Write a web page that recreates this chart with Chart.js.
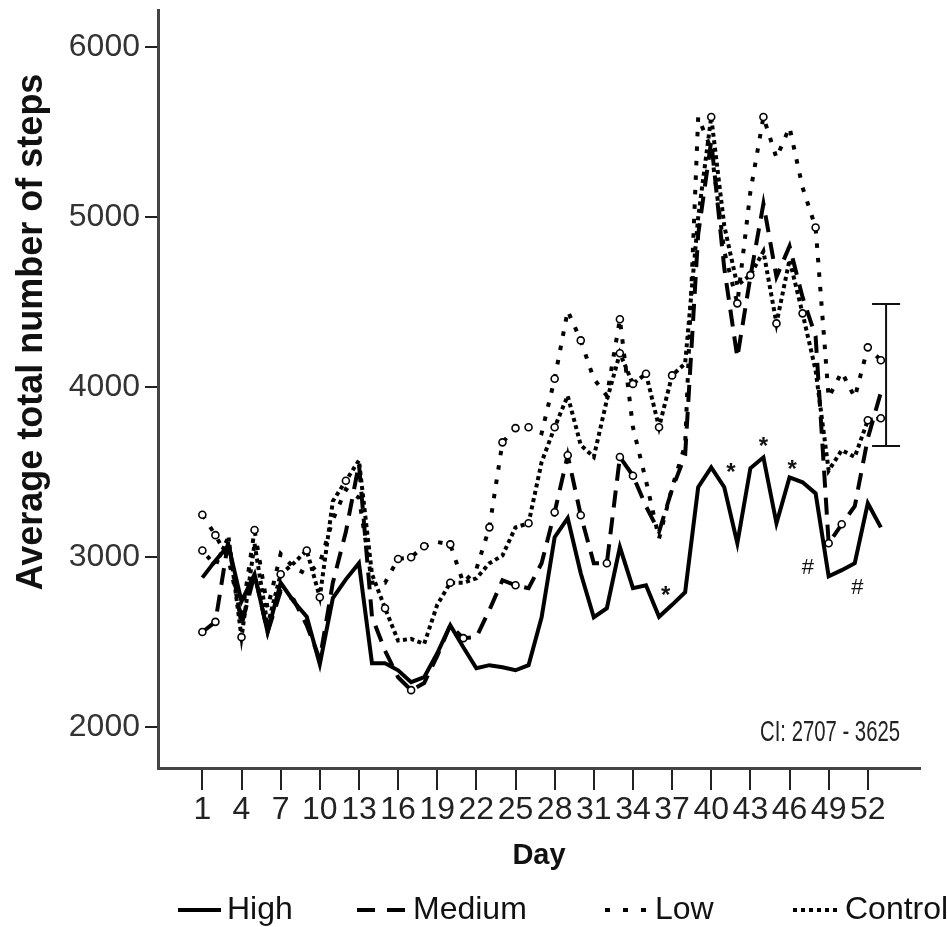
<!DOCTYPE html>
<html><head><meta charset="utf-8">
<script src="https://cdn.jsdelivr.net/npm/chart.js@4.4.0/dist/chart.umd.min.js"></script>
<style>html,body{margin:0;padding:0;background:#fff;}#wrap{width:947px;height:927px;}</style>
</head><body><div id="wrap"><canvas id="c" width="947" height="927"></canvas></div>
<script>
const days = [1,2,3,4,5,6,7,8,9,10,11,12,13,14,15,16,17,18,19,20,21,22,23,24,25,26,27,28,29,30,31,32,33,34,35,36,37,38,39,40,41,42,43,44,45,46,47,48,49,50,51,52,53];
const xTickDays = [1,4,7,10,13,16,19,22,25,28,31,34,37,40,43,46,49,52];
const yTickValues = [2000,3000,4000,5000,6000];
const seriesNames = ['High','Medium','Low','Control'];

const high = [2880,2980,3070,2740,2900,2560,2850,2740,2650,2370,2760,2870,2965,2376,2376,2335,2265,2294,2435,2600,2470,2347,2365,2353,2335,2365,2647,3118,3230,2906,2647,2700,3060,2818,2835,2650,2720,2794,3412,3529,3412,3082,3524,3588,3200,3470,3441,3376,2888,2924,2965,3318,3176];
const medium = [2560,2620,3100,2600,2900,2560,2800,2750,2600,2400,2850,3150,3550,2650,2450,2294,2218,2260,2420,2600,2524,2530,2690,2865,2835,2818,2965,3265,3600,3247,2965,2965,3590,3480,3300,3150,3400,3600,4900,5450,4700,4176,4650,5080,4650,4830,4530,4300,3082,3194,3300,3700,3970];
const low = [3250,3130,2990,2640,3160,2700,3020,2940,2900,2965,3220,3400,3350,2850,2850,2990,3000,3065,3090,3076,2850,2930,3176,3676,3760,3765,3730,4050,4450,4276,4050,3950,4400,3765,3450,3110,3410,3660,5590,5400,4800,4494,5150,5590,5350,5530,5176,4940,3940,4090,3940,4235,4159];
const control = [3040,2950,3120,2530,3080,2600,2900,2965,3040,2765,3330,3450,3570,2900,2700,2510,2520,2490,2720,2850,2850,2876,2965,3010,3176,3200,3560,3765,3950,3660,3590,3925,4200,4020,4080,3765,4070,4140,5000,5590,4950,4600,4660,4800,4376,4750,4435,4100,3510,3630,3590,3806,3818];

// days that carry a small open-circle marker in each series
const highMarked = [];
const mediumMarked = [1,2,17,21,25,28,29,30,32,33,34,49,50];
const lowMarked = [1,2,5,16,17,18,20,23,24,25,26,28,30,33,42,44,48,52,53];
const controlMarked = [1,4,7,9,10,12,15,20,26,28,33,34,35,36,37,40,43,45,47,52,53];

// significance marks and the CI error bar (data coordinates)
const sigMarks = [
  {day:36.5, value:2800, text:'*'},
  {day:41.5, value:3524, text:'*'},
  {day:44.0, value:3676, text:'*'},
  {day:46.2, value:3541, text:'*'},
  {day:47.4, value:2935, text:'#'},
  {day:51.2, value:2818, text:'#'}
];
const ciBar = {day:53.4, low:3655, high:4490};
const ciText = 'CI: 2707 - 3625';

const FONT = "'Liberation Sans', Arial, sans-serif";

function toPoints(vals){ return days.map((d,i)=>({x:d, y:vals[i]})); }
function markerRadius(marked){ return ctx => (ctx.raw && marked.includes(ctx.raw.x)) ? 3.5 : 0; }

const styles = [
  {dash:[], legendDash:[], marked:highMarked},
  {dash:[17,10], legendDash:[18,12], marked:mediumMarked},
  {dash:[4.5,10], legendDash:[5,13], marked:lowMarked},
  {dash:[4,3.5], legendDash:[4,4], marked:controlMarked}
];
const allSeries = [high, medium, low, control];

const datasets = allSeries.map((vals,i)=>({
  label: seriesNames[i],
  data: toPoints(vals),
  borderColor:'#000',
  borderWidth:4,
  borderDash:styles[i].dash,
  borderCapStyle:'butt',
  borderJoinStyle:'miter',
  tension:0,
  fill:false,
  pointRadius: markerRadius(styles[i].marked),
  pointHoverRadius:0,
  pointBackgroundColor:'#fff',
  pointBorderColor:'#000',
  pointBorderWidth:1.6
}));

const legendLayout = [
  {x0:178, x1:221, tx:227},
  {x0:357, x1:405, tx:413},
  {x0:605, x1:649, tx:655},
  {x0:793, x1:837, tx:845}
];

const extras = {
  id:'extras',
  afterDraw(chart){
    const {ctx, scales:{x,y}} = chart;
    ctx.save();
    // CI error bar
    const bx = x.getPixelForValue(ciBar.day);
    const yt = y.getPixelForValue(ciBar.high), yb = y.getPixelForValue(ciBar.low);
    ctx.strokeStyle='#111'; ctx.lineWidth=2; ctx.setLineDash([]);
    ctx.beginPath();
    ctx.moveTo(bx,yt); ctx.lineTo(bx,yb);
    ctx.moveTo(bx-14,yt); ctx.lineTo(bx+14,yt);
    ctx.moveTo(bx-14,yb); ctx.lineTo(bx+14,yb);
    ctx.stroke();
    // significance marks
    ctx.fillStyle='#111'; ctx.textAlign='center'; ctx.textBaseline='middle';
    sigMarks.forEach(m=>{
      const px = x.getPixelForValue(m.day), py = y.getPixelForValue(m.value);
      if (m.text==='*'){ ctx.font = "bold 24px "+FONT; ctx.fillText(m.text, px, py+5); }
      else { ctx.font = "22px "+FONT; ctx.fillText(m.text, px, py); }
    });
    // CI text (narrow face)
    ctx.save();
    ctx.translate(chart.chartArea.right-20, 733);
    ctx.scale(0.7, 1);
    ctx.font = "29px "+FONT; ctx.textAlign='right'; ctx.textBaseline='middle'; ctx.fillStyle='#222';
    ctx.fillText(ciText, 0, 0);
    ctx.restore();
    // y axis title
    ctx.save();
    ctx.translate(32, 332); ctx.rotate(-Math.PI/2);
    ctx.font = "bold 36px "+FONT; ctx.textAlign='center'; ctx.textBaseline='middle'; ctx.fillStyle='#111';
    ctx.fillText('Average total number of steps', 0, 0);
    ctx.restore();
    // legend
    chart.data.datasets.forEach((ds,i)=>{
      const L = legendLayout[i];
      ctx.strokeStyle='#000'; ctx.lineWidth=ds.borderWidth; ctx.lineCap='butt'; ctx.setLineDash(styles[i].legendDash);
      ctx.beginPath(); ctx.moveTo(L.x0,910); ctx.lineTo(L.x1,910); ctx.stroke();
      ctx.setLineDash([]);
      ctx.font = "32px "+FONT; ctx.textAlign='left'; ctx.textBaseline='middle'; ctx.fillStyle='#111';
      ctx.fillText(ds.label, L.tx, 910);
    });
    ctx.restore();
  }
};

new Chart(document.getElementById('c'), {
  type:'line',
  data:{datasets},
  options:{
    responsive:false, animation:false, devicePixelRatio:1,
    layout:{padding:{top:10,right:27,bottom:0,left:0}},
    plugins:{legend:{display:false}, tooltip:{enabled:false}},
    elements:{point:{hitRadius:0}},
    scales:{
      x:{type:'linear', min:-2.4, max:56,
        afterBuildTicks:s=>{ s.ticks = xTickDays.map(v=>({value:v})); },
        afterFit:s=>{ s.height = 159; s.paddingLeft = 0; s.paddingRight = 0; },
        grid:{drawOnChartArea:false, drawTicks:true, tickLength:22, color:'#222', lineWidth:2},
        border:{display:true, color:'#444', width:3},
        ticks:{font:{family:FONT, size:32}, color:'#222', padding:1, maxRotation:0, autoSkip:false,
          callback:v=>String(v)},
        title:{display:true, text:'Day', color:'#111', font:{family:FONT, size:29, weight:'bold'}, padding:{top:0,bottom:54}}
      },
      y:{min:1760, max:6220,
        afterBuildTicks:s=>{ s.ticks = yTickValues.map(v=>({value:v})); },
        afterFit:s=>{ s.width = 158; s.paddingTop = 0; s.paddingBottom = 0; },
        grid:{drawOnChartArea:false, drawTicks:true, tickLength:13, color:'#222', lineWidth:2},
        border:{display:true, color:'#444', width:3},
        ticks:{font:{family:FONT, size:32}, color:'#333', padding:5, callback:v=>String(v)}
      }
    }
  },
  plugins:[extras]
});
</script></body></html>
